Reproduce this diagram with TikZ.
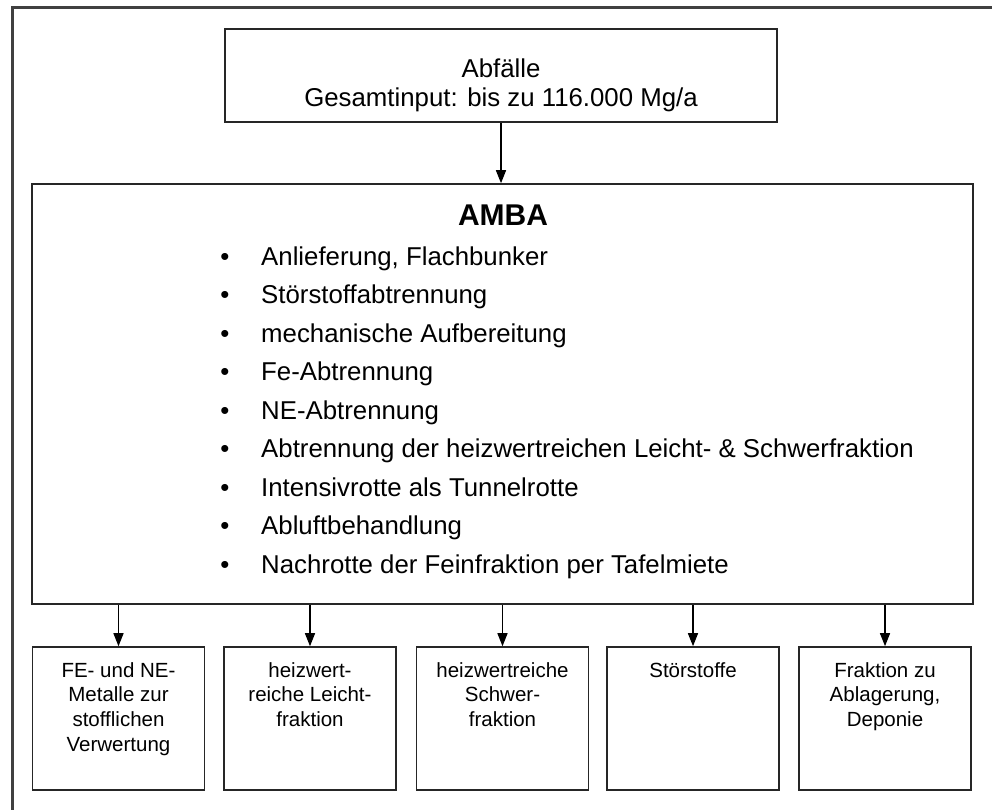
\documentclass[tikz,border=0pt]{standalone}
\usepackage{fontspec}
\setmainfont{Liberation Sans}
\usetikzlibrary{arrows.meta}
\begin{document}
\begin{tikzpicture}[x=1pt,y=-1pt,
  box/.style={draw=black!85, line width=1.6pt, inner sep=0pt},
  conn/.style={line width=1.3pt, -{Triangle[length=13pt,width=10pt]}},
  big/.style={inner sep=0pt, font=\fontsize{25.8}{30}\selectfont},
  small/.style={inner sep=0pt, font=\fontsize{20.5}{24.7}\selectfont},
  title/.style={inner sep=0pt, font=\fontsize{30}{34}\selectfont\bfseries}]
\clip (0,0) rectangle (992,809);
\fill[white] (0,0) rectangle (992,809);
\draw[line width=2.2pt, black!75] (12.5,7.5) rectangle (1010,830);
% top box
\node[box, minimum width=552pt, minimum height=93pt] (top) at (501,75.5) {};
\node[big, anchor=base] (t1) at (501,77) {Abfälle};
\node[big, anchor=base] (t2) at (501,106) {Gesamtinput: bis zu 116.000 Mg/a};
% AMBA box
\node[box, minimum width=941pt, minimum height=420pt] (amba) at (502.5,394) {};
\node[title, anchor=base] (ambat) at (503,225) {AMBA};
\foreach \i/\txt in {0/{Anlieferung, Flachbunker},1/{Störstoffabtrennung},2/{mechanische Aufbereitung},3/{Fe-Abtrennung},4/{NE-Abtrennung},5/{Abtrennung der heizwertreichen Leicht- \& Schwerfraktion},6/{Intensivrotte als Tunnelrotte},7/{Abluftbehandlung},8/{Nachrotte der Feinfraktion per Tafelmiete}}{
  \node[big, anchor=base] (bul\i) at (225,265+38.5*\i) {•};
  \node[big, anchor=base west] (it\i) at (261,265+38.5*\i) {\txt};
}
\draw[conn] (top.south) -- (top.south |- amba.north);
% bottom boxes
\foreach \n/\x in {1/118.5,2/310,3/502.5,4/693,5/885}{
  \node[box, minimum width=172pt, minimum height=143pt] (b\n) at (\x,718.5) {};
  \draw[conn] (amba.south -| b\n.north) -- (b\n.north);
}
\node[small, anchor=base] (l11) at (b1.north |- 0,677) {FE- und NE-};
\node[small, anchor=base] (l12) at (b1.north |- 0,701.7) {Metalle zur};
\node[small, anchor=base] (l13) at (b1.north |- 0,726.4) {stofflichen};
\node[small, anchor=base] (l14) at (b1.north |- 0,751) {Verwertung};
\node[small, anchor=base] (l21) at (b2.north |- 0,677) {heizwert-};
\node[small, anchor=base] (l22) at (b2.north |- 0,701.7) {reiche Leicht-};
\node[small, anchor=base] (l23) at (b2.north |- 0,726.4) {fraktion};
\node[small, anchor=base] (l31) at (b3.north |- 0,677) {heizwertreiche};
\node[small, anchor=base] (l32) at (b3.north |- 0,701.7) {Schwer-};
\node[small, anchor=base] (l33) at (b3.north |- 0,726.4) {fraktion};
\node[small, anchor=base] (l41) at (b4.north |- 0,677) {Störstoffe};
\node[small, anchor=base] (l51) at (b5.north |- 0,677) {Fraktion zu};
\node[small, anchor=base] (l52) at (b5.north |- 0,701.7) {Ablagerung,};
\node[small, anchor=base] (l53) at (b5.north |- 0,726.4) {Deponie};
\end{tikzpicture}
\end{document}
